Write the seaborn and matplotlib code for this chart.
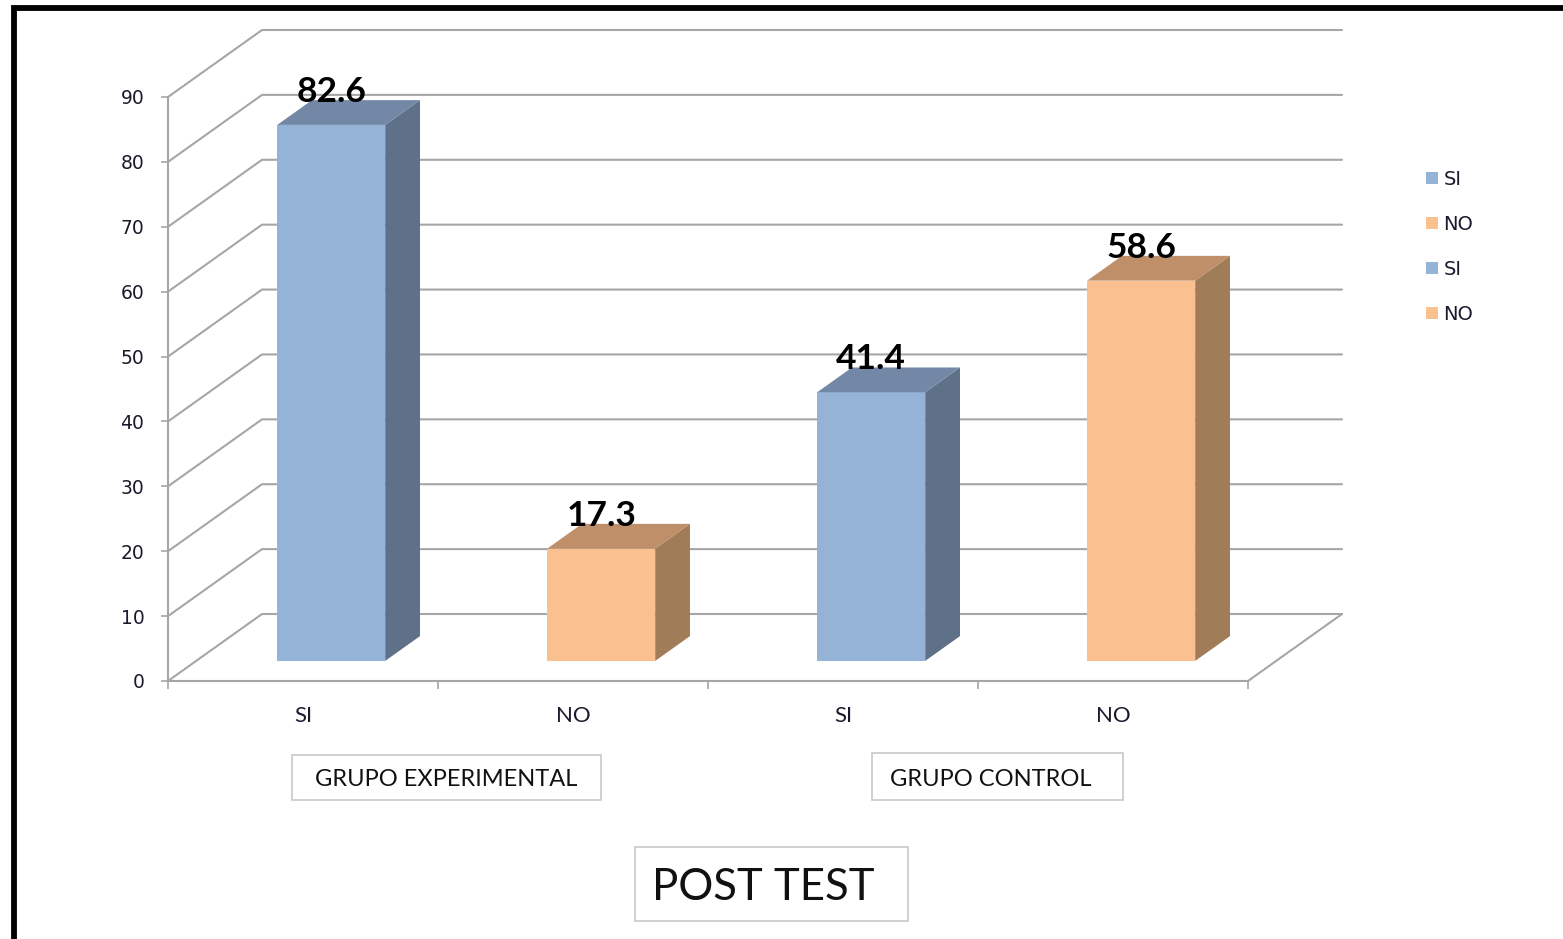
import matplotlib
matplotlib.use("Agg")
import matplotlib.pyplot as plt
import seaborn as sns
import pandas as pd
import numpy as np
from matplotlib.patches import Polygon, Rectangle, Patch
from matplotlib.transforms import Affine2D

# ---------------- data ----------------
series_keys = ["SI_exp", "NO_exp", "SI_ctl", "NO_ctl"]
tick_labels = ["SI", "NO", "SI", "NO"]
values = [82.6, 17.3, 41.4, 58.6]
value_labels = ["82.6", "17.3", "41.4", "58.6"]
group_labels = ["GRUPO EXPERIMENTAL", "GRUPO CONTROL"]
legend_labels = ["SI", "NO", "SI", "NO"]
title_text = "POST TEST"
y_ticks = list(range(0, 100, 10))

front_colors = ["#95B3D7", "#FAC090", "#95B3D7", "#FAC090"]
side_colors = ["#5F7089", "#A07C59", "#5F7089", "#A07C59"]
top_colors = ["#7388A6", "#BF8F69", "#7388A6", "#BF8F69"]

W, H = 1563, 939
DPI = 100
sns.set_theme(style="white")
plt.rcParams["font.family"] = ["Lato", "DejaVu Sans"]

fig = plt.figure(figsize=(W / DPI, H / DPI), dpi=DPI)
fig.patch.set_facecolor("white")

# front plane of the plot (pixel coords measured from top-left)
L, R, T, B = 168, 1248, 97, 681
ax = fig.add_axes([L / W, 1 - B / H, (R - L) / W, (B - T) / H])
ax.set_facecolor("none")

df = pd.DataFrame({"key": series_keys, "val": values})
sns.barplot(data=df, x="key", y="val", hue="key", palette=front_colors,
            order=series_keys, hue_order=series_keys, width=0.4,
            legend=False, ax=ax, saturation=1, zorder=5)

ax.set_xlim(-0.5, 3.5)
ax.set_ylim(0, 90)
ax.set_xlabel("")
ax.set_ylabel("")

# depth vector (display pixels) and bar depth fractions
DX, DY = 94, 67
F0, F1 = 0.30, 0.67
GRID = "#A6A6A6"

fig.canvas.draw()
inv = ax.transData.inverted()


def proj(x, y, f):
    X, Y = ax.transData.transform((x, y))
    return inv.transform((X + f * DX, Y + f * DY))


# walls: left-wall diagonals + back-wall gridlines
for v in y_ticks:
    p0 = proj(-0.5, v, 0)
    p1 = proj(-0.5, v, 1)
    p2 = proj(3.5, v, 1)
    ax.plot([p0[0], p1[0], p2[0]], [p0[1], p1[1], p2[1]], color=GRID,
            lw=1.5, clip_on=False, zorder=1, solid_joinstyle="miter")
# floor right edge
q0 = proj(3.5, 0, 0)
q1 = proj(3.5, 0, 1)
ax.plot([q0[0], q1[0]], [q0[1], q1[1]], color=GRID, lw=1.5, clip_on=False, zorder=1)

# bars: shift front faces into depth, add side and top faces
shift = Affine2D().translate(F0 * DX, F0 * DY)
bars = [p for p in ax.patches]
for i, p in enumerate(bars):
    p.set_transform(ax.transData + shift)
    p.set_edgecolor("none")
    p.set_clip_on(False)
    x0 = p.get_x()
    x1 = x0 + p.get_width()
    v = p.get_height()
    side = [proj(x1, 0, F0), proj(x1, v, F0), proj(x1, v, F1), proj(x1, 0, F1)]
    top = [proj(x0, v, F0), proj(x1, v, F0), proj(x1, v, F1), proj(x0, v, F1)]
    ax.add_patch(Polygon(side, closed=True, facecolor=side_colors[i],
                         edgecolor="none", clip_on=False, zorder=5))
    ax.add_patch(Polygon(top, closed=True, facecolor=top_colors[i],
                         edgecolor="none", clip_on=False, zorder=5))
    cx = x0 + p.get_width() / 2
    tp = proj(cx, v, F0)
    ax.annotate(value_labels[i], xy=tp, xytext=(0, 17), textcoords="offset pixels",
                ha="center", va="bottom", fontsize=25.5, fontweight="bold",
                color="black", zorder=10, annotation_clip=False)

# axes styling
for s in ["top", "right"]:
    ax.spines[s].set_visible(False)
for s in ["left", "bottom"]:
    ax.spines[s].set_color(GRID)
    ax.spines[s].set_linewidth(1.5)
    ax.spines[s].set_zorder(2)

ax.set_yticks(y_ticks)
ax.set_yticklabels([str(t) for t in y_ticks], fontsize=13.5,
                   family=["DejaVu Sans"], color="#1a1a2e")
ax.tick_params(axis="y", length=5, width=1.2, color=GRID, pad=12, left=True)

ax.set_xticks([-0.5, 0.5, 1.5, 2.5, 3.5])
ax.set_xticklabels([])
ax.set_xticks([0, 1, 2, 3], minor=True)
ax.set_xticklabels(tick_labels, minor=True, fontsize=16, color="#1a1a2e")
ax.tick_params(axis="x", which="major", length=6, width=1.2, color=GRID,
               direction="out", bottom=True)
ax.tick_params(axis="x", which="minor", length=0, pad=18, bottom=True)


# group label boxes and title box (figure pixel layout)
def boxed_text(text, x0, y0, x1, y1, size, tx=None, ty=None):
    fig.add_artist(Rectangle((x0 / W, 1 - y1 / H), (x1 - x0) / W, (y1 - y0) / H,
                             transform=fig.transFigure, facecolor="white",
                             edgecolor="#C8C8C8", lw=1.2))
    cx = (x0 + x1) / 2 if tx is None else tx
    cy = (y0 + y1) / 2 if ty is None else ty
    fig.text(cx / W, 1 - cy / H, text, ha="center", va="center",
             fontsize=size, color="#111111")


boxed_text(group_labels[0], 292, 755, 601, 800, 17, ty=780)
boxed_text(group_labels[1], 872, 753, 1123, 800, 17, tx=991, ty=779)
boxed_text(title_text, 635, 847, 908, 921, 31.5, tx=763, ty=888)

# legend
handles = [Patch(facecolor=c, edgecolor="none") for c in front_colors]
leg = fig.legend(handles, legend_labels, loc="upper left",
                 bbox_to_anchor=(1426 / W, 1 - 170 / H), frameon=False,
                 prop={"family": "DejaVu Sans", "size": 14},
                 handlelength=0.6, handleheight=0.6, handletextpad=0.3,
                 labelspacing=1.33, borderaxespad=0, borderpad=0)
for t in leg.get_texts():
    t.set_color("#1a1a2e")

# outer black frame (top and left visible)
fig.add_artist(Rectangle((13.5 / W, -0.1), 2.0, (H - 8) / H + 0.1,
                         transform=fig.transFigure, fill=False,
                         edgecolor="black", lw=4.2))

fig.savefig("out.png", dpi=DPI)
